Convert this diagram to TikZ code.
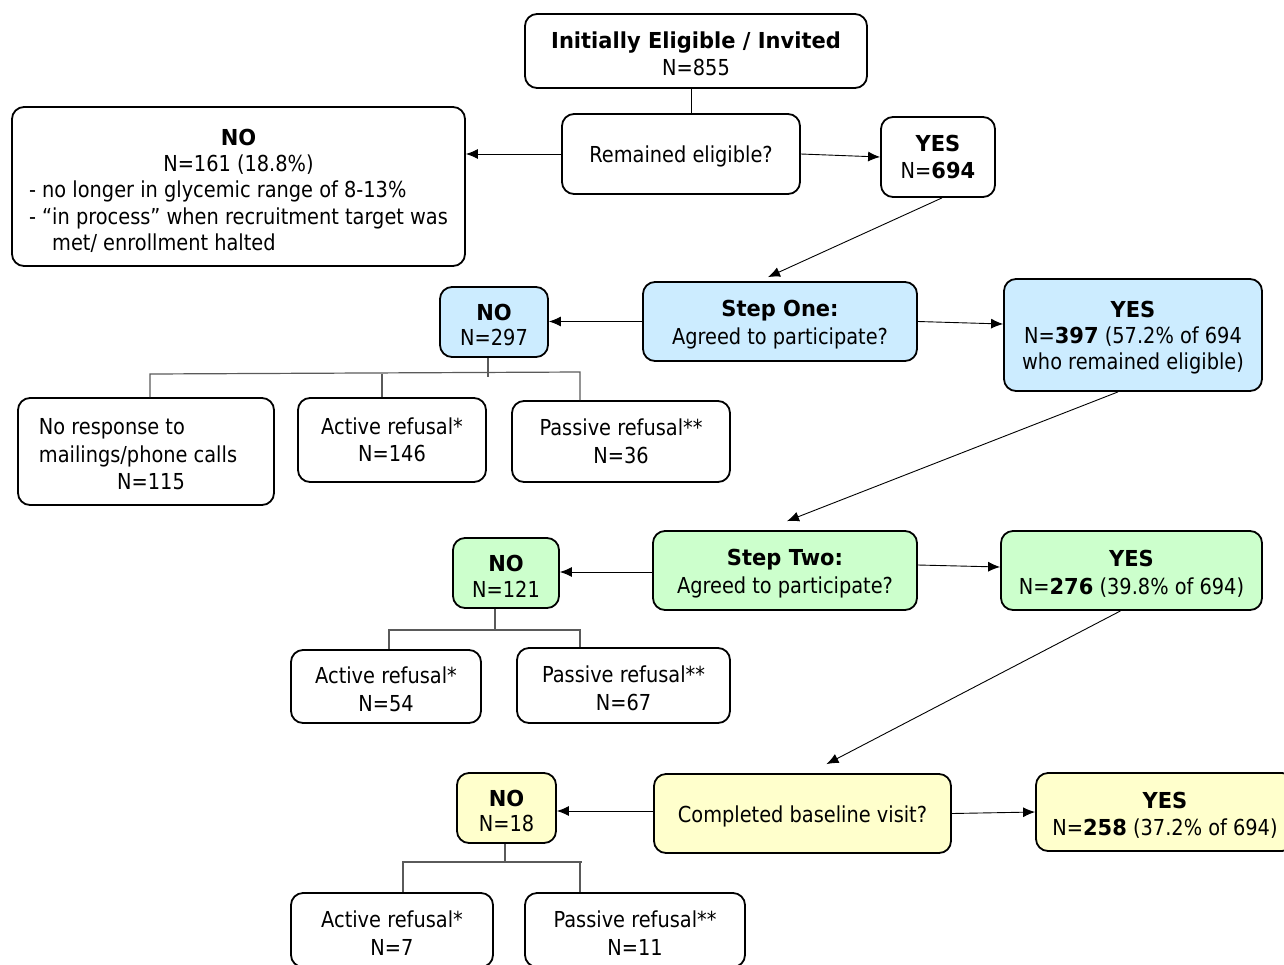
\documentclass[tikz,border=0pt]{standalone}
\usepackage{fontspec}
\setmainfont{DejaVu Sans}[UprightFeatures={FakeStretch=0.88}, BoldFeatures={FakeStretch=0.955}]
\usetikzlibrary{arrows.meta,calc}
\definecolor{cblue}{HTML}{CCECFF}
\definecolor{cgreen}{HTML}{CCFFCC}
\definecolor{cyellow}{HTML}{FFFFCC}
\definecolor{treegray}{HTML}{5A5A5A}
\newcommand{\lowerbox}[2]{\raisebox{0pt}[\dimexpr\height+#1\relax][\depth]{#2}}
\newcommand{\tp}{\rule{0pt}{22.5pt}}
\begin{document}
\begin{tikzpicture}[x=1pt,y=-1pt,
  box/.style={draw=black, line width=1.8pt, rounded corners=12pt, inner sep=0pt,
    align=center, font=\fontsize{22}{27.5}\selectfont, text=black,
    execute at begin node={\rule{0pt}{22.5pt}}},
  wh/.style 2 args={minimum width=#1pt, minimum height=#2pt},
  blue/.style={fill=cblue}, green/.style={fill=cgreen}, yellow/.style={fill=cyellow},
  arr/.style={draw=black, line width=0.9pt, -{Latex[length=12pt,width=10pt]}},
  tree/.style={draw=treegray, line width=1.2pt},
]
\path[use as bounding box] (0,0) rectangle (1284,964);
\clip (0,0) rectangle (1284,964);

% nodes
\node[box, wh={342}{74}] (init) at (696,51) {\tp\textbf{Initially Eligible / Invited}\\N=855};
\node[box, wh={238}{80}] (remained) at (681,154) {Remained eligible?};
\node[box, wh={453}{159}] (no1) at (238.5,186.5) {\fontsize{22}{26.3}\selectfont
  \lowerbox{12pt}{\begin{tabular}{@{}l@{}}
  \multicolumn{1}{@{}c@{}}{\textbf{NO}}\\
  \multicolumn{1}{@{}c@{}}{N=161 (18.8\%)}\\
  - no longer in glycemic range of 8-13\%\\
  - “in process” when recruitment target was\\
  \hspace*{1.05em}met/ enrollment halted
  \end{tabular}}};
\node[box, wh={114}{80}] (yes1) at (938,157) {\textbf{YES}\\N=\textbf{694}};

\node[box, blue, wh={274}{79}] (step1) at (780,321.5) {\tp\textbf{Step One:}\\Agreed to participate?};
\node[box, blue, wh={108}{70}, font=\fontsize{22}{25.5}\selectfont] (no2) at (494,322) {\tp\textbf{NO}\\N=297};
\node[box, blue, wh={258}{112}, font=\fontsize{22}{26}\selectfont] (yes2) at (1133,335) {\tp\textbf{YES}\\N=\textbf{397} (57.2\% of 694\\who remained eligible)};

\node[box, wh={256}{107}] (noresp) at (146,451.5) {\fontsize{22}{27.5}\selectfont
  \lowerbox{10pt}{\begin{tabular}{@{}l@{\hspace{16pt}}}
  No response to\\
  mailings/phone calls\\
  \multicolumn{1}{@{\hspace{10pt}}c@{}}{N=115}
  \end{tabular}}};
\node[box, wh={188}{84}] (act1) at (392,440) {Active refusal*\\N=146};
\node[box, wh={218}{81}] (pas1) at (621,441.5) {Passive refusal**\\N=36};

\node[box, green, wh={264}{79}] (step2) at (785,570.5) {\tp\textbf{Step Two:}\\Agreed to participate?};
\node[box, green, wh={106}{70}, font=\fontsize{22}{25.5}\selectfont] (no3) at (506,573) {\tp\textbf{NO}\\N=121};
\node[box, green, wh={261}{79}] (yes3) at (1131.5,570.5) {\tp\textbf{YES}\\N=\textbf{276} (39.8\% of 694)};

\node[box, wh={190}{73}] (act2) at (386,686.5) {\tp Active refusal*\\N=54};
\node[box, wh={213}{75}] (pas2) at (623.5,685.5) {\tp Passive refusal**\\N=67};

\node[box, yellow, wh={297}{79}] (baseline) at (802.5,813.5) {Completed baseline visit?};
\node[box, yellow, wh={99}{70}, font=\fontsize{22}{25.5}\selectfont] (no4) at (506.5,808) {\tp\textbf{NO}\\N=18};
\node[box, yellow, wh={258}{78}] (yes4) at (1165,812) {\tp\textbf{YES}\\N=\textbf{258} (37.2\% of 694)};

\node[box, wh={202}{74}] (act3) at (392,930) {\tp Active refusal*\\N=7};
\node[box, wh={220}{74}] (pas3) at (635,930) {\tp Passive refusal**\\N=11};

% connectors
\draw[line width=0.9pt] (init.south -| 691,0) -- (remained.north -| 691,0);
\draw[arr] (remained.west) -- (no1.east |- remained.west);
\draw[arr] (remained.east) -- (yes1.west);
\draw[arr] ($(yes1.south)+(4,0)$) -- ($(step1.north)+(-12,-4)$);

\draw[arr] (step1.west) -- (no2.east |- step1.west);
\draw[arr] (step1.east) -- (yes2.west |- 0,324);
\draw[arr] ($(yes2.south)+(-15,0)$) -- ($(step2.north)+(2,-9)$);

\draw[arr] (step2.west |- 0,572) -- (no3.east |- 0,572);
\draw[arr] (step2.east |- 0,565) -- (yes3.west |- 0,567);
\draw[arr] ($(yes3.south)+(-11,0)$) -- ($(baseline.north)+(24,-9)$);

\draw[arr] (baseline.west |- 0,811) -- (no4.east |- 0,811);
\draw[arr] (baseline.east) -- (yes4.west);

% trees
\draw[tree] (no2.south -| 488,0) -- (488,377);
\draw[tree] (noresp.north -| 150,0) -- (150,374) -- (580,372) -- (pas1.north -| 580,0);
\draw[tree] (act1.north -| 382,0) -- (382,373.5);

\draw[tree] (no3.south -| 495,0) -- (495,630);
\draw[tree] (act2.north -| 389,0) -- (389,630) -- (580,630) -- (pas2.north -| 580,0);

\draw[tree] (no4.south -| 505,0) -- (505,862);
\draw[tree] (act3.north -| 403,0) -- (403,862) -- (582,862);
\draw[tree] (580,862) -- (pas3.north -| 580,0);
\end{tikzpicture}
\end{document}
